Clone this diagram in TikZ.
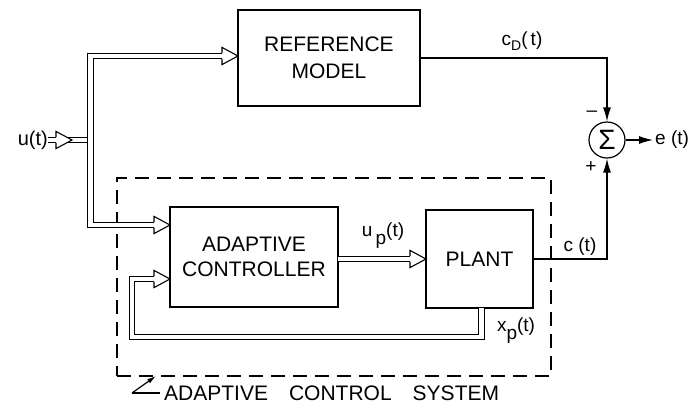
\documentclass[tikz,border=0pt]{standalone}
\usepackage{fontspec}
\setmainfont{Liberation Sans}
\usetikzlibrary{arrows.meta,calc}
\tikzset{
  blk/.style={draw, line width=1.4pt, inner sep=0pt, outer sep=0pt, align=center},
  dbl/.style={draw, line width=1.1pt, double, double distance=4.6pt, line join=miter},
  sig/.style={draw, line width=1.2pt},
  lbl/.style={inner sep=0pt, font=\fontsize{19}{19}\selectfont},
  filltip/.style={-{Latex[length=14pt,width=8pt]}},
  dashbox/.style={draw, line width=1.5pt, dash pattern=on 14pt off 8pt, inner sep=0pt, outer sep=0pt}
}
\newcommand{\hollowhead}[1]{%
  \draw[line width=1.1pt, fill=white, line join=miter]
    ($(#1)+(-16,-2.85)$) -- ++(0,-5.75) -- (#1) -- ($(#1)+(-16,8.6)$) -- ++(0,-5.75);}
\begin{document}
\begin{tikzpicture}[x=1pt,y=-1pt]
\useasboundingbox (0,0) rectangle (697,413);

% blocks
\node[blk, minimum width=182pt, minimum height=96pt, font=\fontsize{21}{27}\selectfont] (rm) at (329,58) {REFERENCE\\MODEL};
\node[blk, minimum width=168pt, minimum height=100pt, font=\fontsize{21}{25}\selectfont] (ac) at (254,257) {ADAPTIVE\\CONTROLLER};
\node[blk, minimum width=107pt, minimum height=98pt, font=\fontsize{21}{21}\selectfont] (pl) at (479.5,259) {PLANT};
\node[draw, circle, line width=1.2pt, minimum size=36pt, inner sep=0pt] (sum) at (607,140) {\fontsize{28}{28}\selectfont Σ};
\node[dashbox, minimum width=434pt, minimum height=198pt] (acs) at (334,277) {};

% labels
\node[lbl, anchor=east, font=\fontsize{20}{20}\selectfont] (u) at (48,140) {u(t)};
\node[lbl] (cd) at (522,41) {c\raisebox{-5pt}{\fontsize{14}{14}\selectfont D}(\,t)};
\node[lbl] (up) at (383,236) {u\,\raisebox{-8pt}{p}(t)};
\node[lbl] (xp) at (516,331) {x\raisebox{-8pt}{p}(t)};
\node[lbl] (ct) at (580,247) {c (t)};
\node[lbl, anchor=west] (e) at (655,140) {e (t)};
\node[lbl] (minus) at (592,114) {–};
\node[lbl] (plus) at (591,167) {+};
\node[lbl, anchor=west, font=\fontsize{21}{21}\selectfont] (acsl) at (164,393) {ADAPTIVE\hspace{21pt}CONTROL\hspace{21pt}SYSTEM};

% coordinates
\coordinate (bus) at (90.5,140);
\coordinate (rmin) at ($(rm.west)+(0,-2)$);
\coordinate (acin1) at ($(ac.north west)+(0,18)$);
\coordinate (acin2) at ($(ac.north west)+(0,72)$);
\coordinate (plin) at (pl.west);
\coordinate (utip) at ($(u.east)+(24,0)$);
\coordinate (fbl) at (132,337);
\coordinate (lp) at (132,393);

% double (vector) connectors
\draw[dbl] (u.east) -- (bus);
\draw[dbl, shorten <=10pt, shorten >=10pt] (rmin) -- (rmin -| bus) -- (acin1 -| bus) -- (acin1);
\draw[dbl, shorten >=10pt] (ac.east |- plin) -- (plin);
\draw[dbl, shorten >=10pt] ($(pl.south)+(2,0)$) |- (fbl) |- (acin2);
\hollowhead{utip}
\hollowhead{rmin}
\hollowhead{acin1}
\hollowhead{acin2}
\hollowhead{plin}

% scalar connectors
\draw[sig, filltip] (rm.east) -| (sum.north);
\draw[sig, filltip] (pl.east) -| (sum.south);
\draw[sig, filltip] (sum.east) -- ($(e.west)+(-2,0)$);

% label pointer
\draw[sig, shorten <=4pt] (acsl.west) -- (lp);
\draw[sig, -{Latex[length=9pt,width=5pt]}] (lp) -- ($(acs.south west)+(39,0)$);
\end{tikzpicture}
\end{document}
